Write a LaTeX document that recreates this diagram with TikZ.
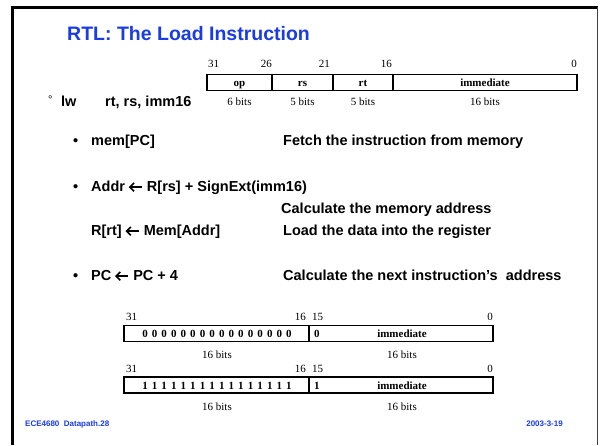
\documentclass[tikz,border=0pt]{standalone}
\usepackage{fontspec}
\setmainfont{Liberation Sans}
\newfontfamily\timesfont{Liberation Serif}
\definecolor{titleblue}{RGB}{25,60,230}
% heavy left arrow used in the register transfer lines
\newcommand\getsarrow{\tikz[x=1pt,y=1pt,baseline=0pt,line width=1.6pt]{%
  \draw (1.2,3.9) -- (13.5,3.9);
  \draw[line join=miter] (5.4,8.1) -- (1.2,3.9) -- (5.4,-0.3);}}
% spaced bit strings
\newcommand\bitgap{\hspace{4.1pt}}
\newcommand\bitrow[1]{#1\bitgap#1\bitgap#1\bitgap#1\bitgap#1\bitgap#1\bitgap#1\bitgap#1\bitgap#1\bitgap#1\bitgap#1\bitgap#1\bitgap#1\bitgap#1\bitgap#1\bitgap#1}
\begin{document}
\begin{tikzpicture}[x=1pt,y=-1pt,
  title/.style={font=\bfseries\fontsize{19.5}{22}\selectfont, text=titleblue, inner sep=0pt, anchor=base west},
  body/.style={font=\bfseries\fontsize{14.5}{17}\selectfont, inner sep=0pt, anchor=base west},
  bitnum/.style={font=\timesfont\fontsize{11}{12}\selectfont, inner sep=0pt},
  fieldlbl/.style={font=\timesfont\bfseries\fontsize{11}{12}\selectfont, inner sep=0pt, anchor=base},
  widthlbl/.style={font=\timesfont\fontsize{11}{12}\selectfont, inner sep=0pt, anchor=base},
  footer/.style={font=\bfseries\fontsize{8}{9}\selectfont, text=titleblue, inner sep=0pt},
  fieldbox/.style={line width=1.2pt}]
\useasboundingbox (0,0) rectangle (600,445);
\fill[white] (0,0) rectangle (600,445);

% slide frame
\draw[line width=2.6pt] (12.3,445) -- (12.3,7.3) -- (598,7.3);
\draw[line width=1.1pt, black!75] (597.6,7.3) -- (597.6,445);

% title
\node[title] (ttl) at (67,40.5) {RTL: The Load Instruction};

% instruction format
\node[bitnum, anchor=base west] (b31) at (208,67.5) {31};
\node[bitnum, anchor=base east] (b26) at (272,67.5) {26};
\node[bitnum, anchor=base east] (b21) at (330,67.5) {21};
\node[bitnum, anchor=base east] (b16) at (392,67.5) {16};
\node[bitnum, anchor=base east] (b0) at (577,67.5) {0};
\draw[fieldbox] (207,74.5) rectangle (577,90.5);
\draw[fieldbox] (272,74.5) -- (272,90.5) (333,74.5) -- (333,90.5) (393,74.5) -- (393,90.5);
\node[fieldlbl] (fop) at (239.5,86.5) {op};
\node[fieldlbl] (frs) at (302.5,86.5) {rs};
\node[fieldlbl] (frt) at (363,86.5) {rt};
\node[fieldlbl] (fimm) at (485,86.5) {immediate};
\node[widthlbl] (wop) at (239.5,105.5) {6 bits};
\node[widthlbl] (wrs) at (302.5,105.5) {5 bits};
\node[widthlbl] (wrt) at (363,105.5) {5 bits};
\node[widthlbl] (wimm) at (485,105.5) {16 bits};

% instruction syntax
\node[font=\fontsize{11}{12}\selectfont, inner sep=0pt, anchor=base west] (deg) at (48,103) {°};
\node[body] (lw) at (61,106.5) {lw};
\node[body] (lwargs) at (105,106.5) {rt, rs, imm16};

% register transfers
\node[body] (bul1) at (73,145) {•};
\node[body] (mem) at (91,145) {mem[PC]};
\node[body] (fetch) at (283,145) {Fetch the instruction from memory};

\node[body] (bul2) at (73,191) {•};
\node[body] (addr) at (91,191) {Addr \getsarrow\ R[rs] + SignExt(imm16)};
\node[body] (calc) at (281,213) {Calculate the memory address};
\node[body] (rrt) at (91,235) {R[rt] \getsarrow\ Mem[Addr]};
\node[body] (load) at (283,235) {Load the data into the register};

\node[body] (bul3) at (73,280) {•};
\node[body] (pc) at (91,280) {PC \getsarrow\ PC + 4};
\node[body] (next) at (283,280) {Calculate the next instruction’s \ address};

% zero extension
\node[bitnum, anchor=base west] (z31) at (126,320.5) {31};
\node[bitnum, anchor=base east] (z16) at (306,320.5) {16};
\node[bitnum, anchor=base west] (z15) at (312,320.5) {15};
\node[bitnum, anchor=base east] (z0) at (493,320.5) {0};
\draw[fieldbox] (124,325.5) rectangle (493,341.5);
\draw[fieldbox] (309,325.5) -- (309,341.5);
\node[fieldlbl] (zhi) at (217,337.5) {\bitrow{0}};
\node[fieldlbl, anchor=base west] (zmsb) at (314,337.5) {0};
\node[fieldlbl] (zimm) at (402,337.5) {immediate};
\node[widthlbl] (zwhi) at (217,358.5) {16 bits};
\node[widthlbl] (zwlo) at (402,358.5) {16 bits};

% sign extension
\node[bitnum, anchor=base west] (s31) at (126,372.5) {31};
\node[bitnum, anchor=base east] (s16) at (306,372.5) {16};
\node[bitnum, anchor=base west] (s15) at (312,372.5) {15};
\node[bitnum, anchor=base east] (s0) at (493,372.5) {0};
\draw[fieldbox] (124,377) rectangle (493,393);
\draw[fieldbox] (309,377) -- (309,393);
\node[fieldlbl] (shi) at (217,389) {\bitrow{1}};
\node[fieldlbl, anchor=base west] (smsb) at (314,389) {1};
\node[fieldlbl] (simm) at (402,389) {immediate};
\node[widthlbl] (swhi) at (217,410.5) {16 bits};
\node[widthlbl] (swlo) at (402,410.5) {16 bits};

% footer
\node[footer, anchor=base west] (foot) at (25,426) {ECE4680 \ Datapath.28};
\node[footer, anchor=base east] (date) at (563,426) {2003-3-19};
\end{tikzpicture}
\end{document}
